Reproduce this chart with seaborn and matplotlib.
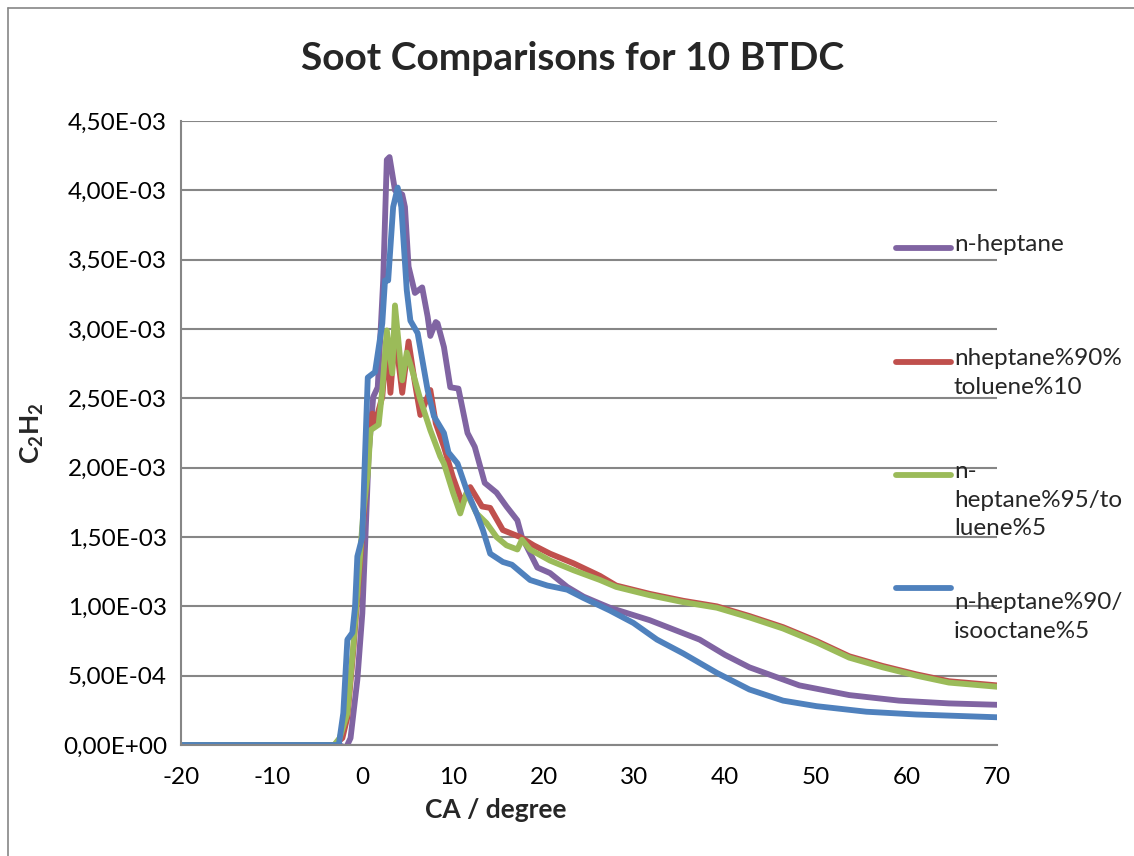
import numpy as np
import pandas as pd
import matplotlib
matplotlib.use("Agg")
import matplotlib.pyplot as plt
import seaborn as sns
from matplotlib.lines import Line2D
from matplotlib.ticker import FuncFormatter, MultipleLocator

# ---------------- data (values in units of 1e-3) ----------------
series_names = ["n-heptane", "nheptane%90%\ntoluene%10",
                "n-\nheptane%95/to\nluene%5", "n-heptane%90/\nisooctane%5"]
colors = ["#8064A2", "#C0504D", "#9BBB59", "#4F81BD"]

hep_x = [-20, -2.6, -1.8, -1.3, -0.55, 0.0, 0.3, 0.7, 1.2, 1.7, 2.3, 2.7, 3.0, 3.6, 4.4, 4.7,
         5.1, 5.8, 6.4, 6.6, 7.2, 7.5, 8.1, 8.3, 9.0, 9.7, 10.6, 11.6, 12.4, 13.5, 14.8,
         15.9, 17.1, 17.6, 19.3, 20.7, 22.6, 24.4, 26.2, 27.3, 31.7, 37.2, 40.0, 42.7, 48.2,
         53.7, 59.2, 64.7, 70]
hep_y = [0, 0, -0.02, 0.05, 0.47, 0.95, 1.43, 2.1, 2.51, 2.58, 3.35, 4.22, 4.24, 4.0, 3.97, 3.88,
         3.45, 3.26, 3.29, 3.30, 3.09, 2.95, 3.05, 3.04, 2.87, 2.58, 2.57, 2.25, 2.15, 1.89, 1.82,
         1.72, 1.62, 1.50, 1.28, 1.24, 1.14, 1.07, 1.02, 0.99, 0.90, 0.76, 0.65, 0.56, 0.43,
         0.36, 0.32, 0.30, 0.29]

tol10_x = [-20, -3.1, -2.2, -1.65, -1.0, -0.45, 0.1, 0.5, 0.8, 1.1, 1.4, 2.2, 2.7, 3.1, 3.6,
           4.4, 5.1, 5.8, 6.4, 7.5, 8.1, 9.0, 10.0, 11.0, 11.9, 13.2, 14.1, 15.5, 17.4, 18.9,
           20.7, 23.3, 26.2, 28.0, 31.7, 35.4, 39.1, 42.7, 46.4, 50.1, 53.7, 57.4, 61.1,
           64.7, 70]
tol10_y = [0, 0, 0.05, 0.2, 0.68, 1.15, 1.62, 1.95, 2.3, 2.39, 2.32, 2.51, 2.92, 2.54, 2.97,
           2.54, 2.91, 2.61, 2.38, 2.56, 2.32, 2.15, 1.93, 1.75, 1.86, 1.72, 1.71, 1.55, 1.50, 1.44,
           1.38, 1.31, 1.22, 1.15, 1.09, 1.04, 1.00, 0.93, 0.85, 0.75, 0.64, 0.57, 0.51,
           0.46, 0.43]

tol5_x = [-20, -3.1, -2.5, -1.65, -1.0, -0.45, 0.1, 0.5, 0.6, 0.9, 1.8, 2.2, 2.7, 3.3, 3.6,
          4.4, 4.9, 5.6, 6.4, 7.5, 8.6, 9.0, 10.0, 10.8, 11.5, 12.6, 13.7, 14.8, 15.9, 17.1,
          17.6, 18.5, 20.7, 23.3, 26.2, 28.0, 31.7, 35.4, 39.1, 42.7, 46.4, 50.1, 53.7,
          57.4, 61.1, 64.7, 70]
tol5_y = [0, 0, 0.05, 0.23, 0.71, 1.19, 1.67, 1.91, 1.95, 2.27, 2.31, 2.56, 2.99, 2.68, 3.17,
          2.63, 2.83, 2.68, 2.49, 2.27, 2.08, 2.03, 1.82, 1.67, 1.82, 1.67, 1.60, 1.50, 1.44, 1.41,
          1.48, 1.41, 1.33, 1.26, 1.19, 1.14, 1.08, 1.03, 0.99, 0.92, 0.84, 0.74, 0.63,
          0.56, 0.50, 0.45, 0.42]

iso_x = [-20, -2.6, -2.1, -1.65, -1.1, -0.8, -0.55, 0.0, 0.2, 0.6, 1.4, 2.2, 2.5, 2.85, 3.4,
         3.9, 4.3, 4.9, 5.3, 6.1, 7.2, 7.9, 9.0, 9.5, 10.5, 11.5, 12.6, 13.3, 14.1, 15.5,
         16.5, 18.5, 20.4, 22.6, 24.4, 27.3, 29.9, 32.5, 35.4, 39.1, 42.7, 46.4, 50.1,
         55.6, 61.1, 70]
iso_y = [0, 0, 0.23, 0.76, 0.81, 1.0, 1.36, 1.5, 1.91, 2.65, 2.69, 3.04, 3.35, 3.35, 3.88,
         4.02, 3.88, 3.28, 3.06, 2.97, 2.56, 2.37, 2.25, 2.11, 2.03, 1.84, 1.67, 1.55, 1.38, 1.32,
         1.30, 1.19, 1.15, 1.12, 1.06, 0.97, 0.88, 0.76, 0.66, 0.52, 0.40, 0.32, 0.28,
         0.24, 0.22, 0.20]

xs = [hep_x, tol10_x, tol5_x, iso_x]
ys = [hep_y, tol10_y, tol5_y, iso_y]

frames = []
for name, x, y in zip(series_names, xs, ys):
    frames.append(pd.DataFrame({"CA": x, "C2H2": np.array(y) * 1e-3, "series": name}))
df = pd.concat(frames, ignore_index=True)

# ---------------- style ----------------
sns.set_style("white")
plt.rcParams["font.family"] = ["Lato", "DejaVu Sans"]
plt.rcParams["mathtext.fontset"] = "custom"
plt.rcParams["mathtext.rm"] = "Lato"
plt.rcParams["mathtext.bf"] = "Lato:bold"
plt.rcParams["axes.unicode_minus"] = False

W, H = 1134, 856
fig = plt.figure(figsize=(W / 100, H / 100), dpi=100)
ax = fig.add_axes([181 / W, 1 - 745 / H, (997 - 181) / W, (745 - 121) / H])

for name, col in zip(series_names, colors):
    sub = df[df["series"] == name]
    sns.lineplot(data=sub, x="CA", y="C2H2", ax=ax, color=col, linewidth=4.2,
                 sort=False, estimator=None, legend=False, solid_capstyle="round",
                 solid_joinstyle="round")

ax.set_xlim(-20, 70)
ax.set_ylim(0, 4.5e-3)
ax.xaxis.set_major_locator(MultipleLocator(10))
ax.yaxis.set_major_locator(MultipleLocator(0.5e-3))
ax.yaxis.set_major_formatter(FuncFormatter(lambda v, p: f"{v:.2E}".replace(".", ",")))
ax.grid(axis="y", color="#868686", linewidth=1.5)
ax.grid(axis="x", visible=False)
ax.set_axisbelow(True)
for s in ["top", "right"]:
    ax.spines[s].set_visible(False)
for s in ["left", "bottom"]:
    ax.spines[s].set_color("#868686")
    ax.spines[s].set_linewidth(1.5)
ax.tick_params(axis="both", which="major", direction="out", length=7, width=1.5,
               color="#868686", labelsize=17.5, labelcolor="black", pad=3)
ax.tick_params(axis="x", pad=9)

ax.set_xlabel("CA / degree", fontsize=19, fontweight="bold", labelpad=8)
ax.xaxis.set_label_coords((496 - 181) / 816, -0.085)
ax.set_ylabel(r"$\mathbf{C_2H_2}$", fontsize=19, labelpad=12)
fig.text(573 / W, 1 - 58 / H, "Soot Comparisons for 10 BTDC", fontsize=28,
         fontweight="bold", ha="center", va="center")

# ---------------- legend (drawn manually, Excel style) ----------------
leg_line_y = [248, 362, 475, 588]
leg_text_y = [248, 362, 475, 606]
for lab, col, ly, ty in zip(series_names, colors, leg_line_y, leg_text_y):
    fig.add_artist(Line2D([896 / W, 951 / W], [1 - ly / H, 1 - ly / H], color=col,
                          linewidth=4.2, solid_capstyle="round"))
    fig.text(954 / W, 1 - (ty - 14) / H, lab, fontsize=17.5, ha="left", va="top",
             linespacing=1.45)

# figure border (left and top visible)
fig.add_artist(Line2D([8 / W, 8 / W], [0, 1 - 8 / H], color="#868686", linewidth=1.2))
fig.add_artist(Line2D([8 / W, 1], [1 - 8 / H, 1 - 8 / H], color="#868686", linewidth=1.2))

fig.savefig("out.png", dpi=100)
